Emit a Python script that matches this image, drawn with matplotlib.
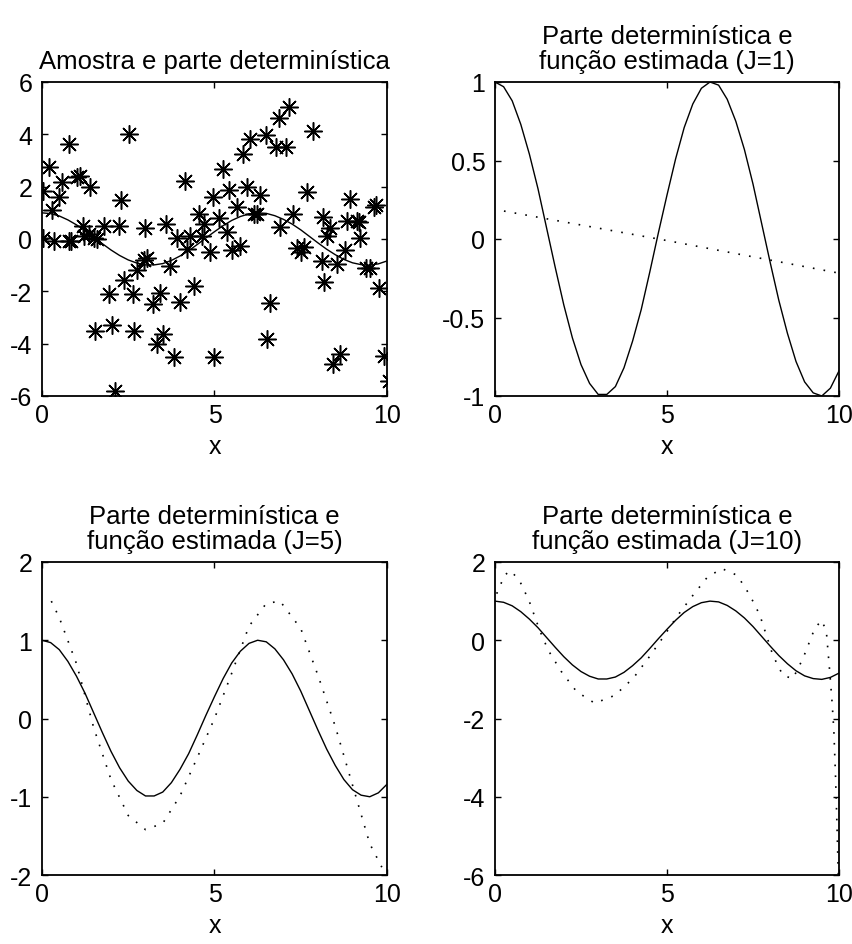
import numpy as np
import matplotlib
matplotlib.use("Agg")
import matplotlib.pyplot as plt

plt.rcParams['font.family'] = ['Liberation Sans', 'DejaVu Sans']
plt.rcParams['axes.unicode_minus'] = False

# amostra (pontos *)
amostra_x = [0.03, 0.19, 0.77, 2.51, 0.58, 1.01, 1.11, 1.40, 0.48, 0.29,
             2.29, 1.19, 1.35, 1.59, 1.81, 2.22, 0.03, 0.34, 0.77, 0.84,
             3.00, 3.59, 4.14, 3.91, 4.20, 3.04, 2.96, 2.75, 3.72, 2.39,
             1.93, 2.64, 3.22, 3.43, 4.01, 1.53, 2.03, 2.68, 3.51, 3.33,
             3.84, 2.11, 1.23, 1.50,
             7.15, 6.86, 7.86, 6.48, 6.04, 6.77, 7.06, 5.82, 5.24, 4.95,
             5.42, 5.95, 6.33, 7.67, 8.94, 9.62, 9.67, 5.66, 5.13, 4.71,
             4.64, 4.30, 5.35, 6.14, 6.24, 7.27, 6.91, 8.15, 8.34, 8.27,
             8.85, 9.18, 9.13, 9.23, 4.86, 5.51, 5.75, 7.40, 7.60, 7.50,
             8.78, 8.12, 8.56, 9.38, 9.52, 8.17, 4.40, 9.78, 6.62, 6.51,
             5.00, 8.65, 8.44, 9.91, 10.05, 4.54]
amostra_y = [1.85, 2.75, 3.64, 4.02, 2.17, 2.36, 2.40, 1.98, 1.60, 1.09,
             1.50, 0.51, 0.19, 0.00, 0.51, 0.51, 0.04, -0.06, -0.06, -0.06,
             0.41, 0.57, 2.20, 0.04, -0.38, -0.74, -0.80, -1.19, -1.02, -1.56,
             -2.11, -2.11, -2.49, -2.08, -2.40, -3.51, -3.28, -3.51, -3.64, -4.02,
             -4.51, -5.79, 0.12, 0.05,
             5.04, 4.62, 4.11, 3.96, 3.83, 3.51, 3.51, 3.26, 2.66, 1.60,
             1.89, 1.98, 1.69, 1.81, 1.51, 1.21, 1.30, 1.21, 0.79, 0.57,
             0.13, 0.13, 0.28, 0.96, 0.96, 0.96, 0.45, 0.83, 0.42, 0.13,
             0.70, 0.64, 0.70, 0.04, -0.51, -0.41, -0.26, -0.35, -0.30, -0.50,
             -0.42, -0.83, -0.96, -1.09, -1.09, -1.66, -1.79, -1.89, -2.43, -3.81,
             -4.51, -4.41, -4.79, -4.47, -5.43, 0.96]

# parte deterministica
det_x = [0, 0.25, 0.5, 0.75, 1.0, 1.25, 1.5, 1.75, 2.0, 2.25, 2.5, 2.75, 3.0,
         3.25, 3.5, 3.75, 4.0, 4.25, 4.5, 4.75, 5.0, 5.25, 5.5, 5.75, 6.0,
         6.25, 6.5, 6.75, 7.0, 7.25, 7.5, 7.75, 8.0, 8.25, 8.5, 8.75, 9.0,
         9.25, 9.5, 9.75, 10.0]
det_y = [1.00, 0.97, 0.88, 0.73, 0.54, 0.32, 0.07, -0.18, -0.42, -0.63, -0.80,
         -0.92, -0.99, -0.99, -0.94, -0.82, -0.65, -0.45, -0.21, 0.04, 0.28,
         0.51, 0.71, 0.86, 0.96, 1.00, 0.98, 0.89, 0.75, 0.57, 0.35, 0.10,
         -0.15, -0.39, -0.60, -0.78, -0.91, -0.98, -1.00, -0.95, -0.84]

# funcoes estimadas
j1_x = [0.26, 5.0, 9.92]
j1_y = [0.178, -0.01, -0.214]

j5_x = [0.27, 0.5, 1.0, 1.5, 2.0, 2.5, 3.0, 3.5, 4.0, 4.5, 5.0, 5.5, 6.0,
        6.5, 6.9, 7.5, 8.0, 8.5, 9.0, 9.5, 9.85]
j5_y = [1.50, 1.29, 0.70, -0.12, -0.78, -1.24, -1.42, -1.34, -0.99, -0.50,
        0.00, 0.58, 1.18, 1.47, 1.50, 1.15, 0.55, -0.10, -0.85, -1.60, -1.90]

j10_x = [0.05, 0.16, 0.29, 0.45, 0.71, 0.99, 1.3, 1.55, 1.92, 2.37, 2.9,
         3.48, 4.02, 4.48, 4.89, 5.3, 5.71, 6.18, 6.6, 7.04, 7.41, 7.7, 8.08,
         8.37, 8.66, 8.95, 9.29, 9.49, 9.63, 9.73, 9.8, 9.85, 9.9, 9.94, 9.98]
j10_y = [1.19, 1.42, 1.67, 1.78, 1.53, 1.01, 0.25, -0.26, -0.79, -1.31, -1.61,
         -1.41, -0.97, -0.43, 0.08, 0.62, 1.10, 1.62, 1.83, 1.66, 1.15, 0.64,
         -0.39, -0.90, -0.98, -0.47, 0.29, 0.51, 0.25, -0.80, -1.6, -2.3, -3.5,
         -4.7, -6.0]

W = 8.53
H = 9.45
fig = plt.figure(figsize=(W, H), dpi=100)

pos = [[42, 83, 345, 314], [495, 83, 344, 314],
       [42, 563, 345, 313], [495, 563, 344, 313]]
axs = []
for p in pos:
    ax = fig.add_axes([p[0] / 853, 1 - (p[1] + p[3]) / 945, p[2] / 853, p[3] / 945])
    axs.append(ax)

dots = (0, (1, 5.5))

ax = axs[0]
ax.plot(det_x, det_y, color='k', lw=1)
ax.plot(amostra_x, amostra_y, ls='none', marker=(8, 2, 0), ms=13, mec='k', mew=1.1)
ax.set_ylim(-6, 6)
ax.set_yticks([-6, -4, -2, 0, 2, 4, 6])

ax = axs[1]
ax.plot(det_x, det_y, color='k', lw=1)
ax.plot(j1_x, j1_y, color='k', lw=1.2, ls=dots)
ax.set_ylim(-1, 1)
ax.set_yticks([-1, -0.5, 0, 0.5, 1])
ax.set_yticklabels(['-1', '-0.5', '0', '0.5', '1'])

ax = axs[2]
ax.plot(det_x, det_y, color='k', lw=1)
ax.plot(j5_x, j5_y, color='k', lw=1.2, ls=dots)
ax.set_ylim(-2, 2)
ax.set_yticks([-2, -1, 0, 1, 2])

ax = axs[3]
ax.plot(det_x, det_y, color='k', lw=1)
ax.plot(j10_x, j10_y, color='k', lw=1.2, ls=dots)
ax.set_ylim(-6, 2)
ax.set_yticks([-6, -4, -2, 0, 2])

titulos = ['Amostra e parte determinística',
           'Parte determinística e\nfunção estimada (J=1)',
           'Parte determinística e\nfunção estimada (J=5)',
           'Parte determinística e\nfunção estimada (J=10)']

for ax, t in zip(axs, titulos):
    ax.set_xlim(0, 10)
    ax.set_xticks([0, 5, 10])
    ax.tick_params(direction='in', top=True, right=True, length=4, width=1,
                   labelsize=18)
    ax.tick_params(axis='x', pad=5)
    ax.tick_params(axis='y', pad=7)
    for s in ax.spines.values():
        s.set_linewidth(1.3)
    ax.set_xlabel('x', fontsize=18, labelpad=5)
    ax.set_title(t, fontsize=18.5, pad=10, linespacing=1.05)

fig.savefig('out.png', dpi=100, facecolor='white')
